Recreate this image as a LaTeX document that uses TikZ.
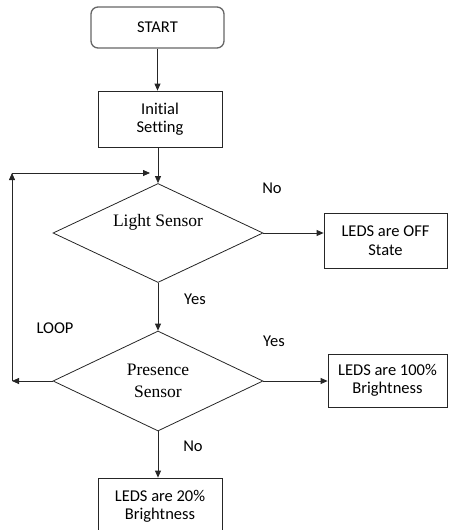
\documentclass[tikz,border=0pt]{standalone}
\usepackage{fontspec}
\newfontfamily\calibrifont[Ligatures=NoCommon]{Carlito}
\newfontfamily\timesfont{Liberation Serif}
\usetikzlibrary{shapes.geometric,arrows.meta}

\begin{document}
\begin{tikzpicture}[x=1pt,y=-1pt]
  \tikzset{terminal/.style={rectangle,rounded corners=7pt,draw=black!60,line width=1.3pt,minimum width=133pt,minimum height=41pt,font=\calibrifont\fontsize{16.5}{18.5}\selectfont}}
  \tikzset{procbox/.style={rectangle,draw=black!85,line width=0.8pt,minimum width=124pt,align=center,font=\calibrifont\fontsize{16.5}{18.5}\selectfont}}
  \tikzset{decision/.style={diamond,draw=black!85,line width=0.8pt,inner sep=0pt,minimum width=210pt,minimum height=99pt,align=center,font=\timesfont\fontsize{17.5}{22}\selectfont}}
  \tikzset{flowlabel/.style={inner sep=1pt,font=\calibrifont\fontsize{16.5}{18.5}\selectfont}}
  \tikzset{flowarrow/.style={draw=black!85,line width=0.8pt,-{Triangle[length=7pt,width=6pt]}}}
  \useasboundingbox (0,0) rectangle (448,530);
  % boxes
  \node[terminal] (start) at (157.5,27.5) {START};
  \node[procbox,minimum height=56pt] (init) at (160,119) {Initial\\Setting};
  \node[decision] (light) at (158,233) {};
  \node[font=\timesfont\fontsize{17.5}{22}\selectfont] (lighttext) at (158,222) {Light Sensor};
  \node[procbox,minimum width=123pt,minimum height=55pt] (off) at (385.5,240.5) {LEDS are OFF\\State};
  \node[decision,minimum height=100pt] (pres) at (158,381) {Presence\\Sensor};
  \node[procbox,minimum width=119pt,minimum height=53pt] (full) at (387.5,380.5) {LEDS are 100\%\\Brightness};
  \node[procbox,minimum height=57pt] (dim) at (160,506.5) {LEDS are 20\%\\Brightness};
  % loop corners
  \coordinate (loopbl) at (12,381);
  \coordinate (looptl) at (12,173);
  \coordinate (loopend) at (150,173);
  % connectors
  \draw[flowarrow] (start.south) -- (start.south |- init.north);
  \draw[flowarrow] (light.north |- init.south) -- (light.north);
  \draw[flowarrow] (light.east) -- (light.east -| off.west);
  \draw[flowarrow] (light.south) -- (pres.north);
  \draw[flowarrow] (pres.east) -- (pres.east -| full.west);
  \draw[flowarrow] (pres.south) -- (pres.south |- dim.north);
  \draw[flowarrow] (pres.west) -- (loopbl);
  \draw[flowarrow] (loopbl) -- (looptl);
  \draw[flowarrow] (looptl) -- (loopend);
  % labels
  \node[flowlabel] (nolight) at (272,188) {No};
  \node[flowlabel] (yeslight) at (195,299) {Yes};
  \node[flowlabel] (looptext) at (55,328) {LOOP};
  \node[flowlabel] (yespres) at (274,341) {Yes};
  \node[flowlabel] (nopres) at (193,446) {No};
\end{tikzpicture}
\end{document}
